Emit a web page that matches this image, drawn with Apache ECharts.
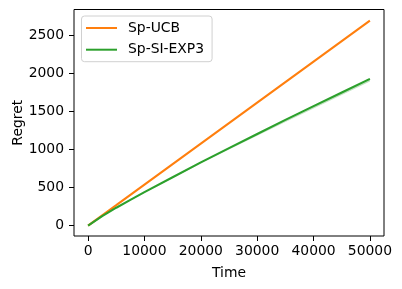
<!DOCTYPE html>
<html>
<head>
<meta charset="utf-8">
<script src="https://cdn.jsdelivr.net/npm/echarts@6/dist/echarts.min.js"></script>
<style>html,body{margin:0;padding:0;background:#fff;}#c{width:402px;height:289px;}</style>
</head>
<body>
<div id="c"></div>
<script>
const timeSteps = [0, 2500, 5000, 7500, 10000, 15000, 20000, 25000, 30000, 35000, 40000, 45000, 50000];
const ucbRegret = [0, 135, 269, 404, 538, 807, 1076, 1345, 1614, 1883, 2152, 2421, 2690];
const exp3Regret = [0, 126, 236, 338, 440, 636, 830, 1017, 1203, 1387, 1568, 1747, 1925];
const exp3Lower = [0, 124, 232, 332, 432, 624, 815, 998, 1180, 1360, 1537, 1713, 1890];
const exp3Upper = [0, 127, 238, 341, 443, 640, 834, 1021, 1207, 1391, 1572, 1751, 1929];
const xTicks = [0, 10000, 20000, 30000, 40000, 50000];
const yTicks = [0, 500, 1000, 1500, 2000, 2500];
const seriesNames = ['Sp-UCB', 'Sp-SI-EXP3'];

const pairs = (ys) => timeSteps.map((t, i) => [t, ys[i]]);
const font = 'DejaVu Sans';
const chart = echarts.init(document.getElementById('c'), null, {renderer: 'canvas'});
chart.setOption({
  animation: false,
  backgroundColor: '#fff',
  grid: {left: 74, right: 18, top: 9.5, bottom: 53, containLabel: false, outerBoundsMode: 'none', show: true, borderColor: '#000', borderWidth: 1, backgroundColor: 'transparent'},
  xAxis: {
    type: 'value', min: -2500, max: 52500,
    name: 'Time', nameLocation: 'middle', nameGap: 30, nameMoveOverlap: false,
    nameTextStyle: {fontFamily: font, fontSize: 13.9, color: '#000'},
    axisLine: {show: false, onZero: false},
    splitLine: {show: false},
    axisTick: {show: true, length: 5, inside: false, lineStyle: {color: '#000', width: 1}, customValues: xTicks},
    axisLabel: {fontFamily: font, fontSize: 13.9, color: '#000', margin: 8, customValues: xTicks, formatter: (v) => String(v), hideOverlap: false}
  },
  yAxis: {
    type: 'value', min: -135, max: 2835,
    name: 'Regret', nameLocation: 'middle', nameGap: 49, nameMoveOverlap: false,
    nameTextStyle: {fontFamily: font, fontSize: 13.9, color: '#000'},
    axisLine: {show: false, onZero: false},
    splitLine: {show: false},
    axisTick: {show: true, length: 5, lineStyle: {color: '#000', width: 1}, customValues: yTicks},
    axisLabel: {fontFamily: font, fontSize: 13.9, color: '#000', margin: 10, customValues: yTicks, formatter: (v) => String(v), hideOverlap: false}
  },
  legend: {
    data: seriesNames,
    orient: 'vertical', left: 81.5, top: 16,
    backgroundColor: 'rgba(255,255,255,0.8)', borderColor: '#d0d0d0', borderWidth: 1, borderRadius: 3,
    padding: [5, 8, 5, 4.5], itemGap: 7.7,
    icon: 'rect', itemWidth: 31, itemHeight: 2,
    textStyle: {fontFamily: font, fontSize: 13.9, color: '#000', padding: [0, 0, 0, 6]}
  },
  series: [
    {
      name: 'band', type: 'custom', silent: true, z: 1,
      data: [0],
      renderItem: function (params, api) {
        const pts = [];
        for (let i = 0; i < timeSteps.length; i++) pts.push(api.coord([timeSteps[i], exp3Upper[i]]));
        for (let i = timeSteps.length - 1; i >= 0; i--) pts.push(api.coord([timeSteps[i], exp3Lower[i]]));
        return {type: 'polygon', shape: {points: pts}, style: {fill: 'rgba(44,160,44,0.3)'}};
      }
    },
    {name: 'Sp-UCB', type: 'line', data: pairs(ucbRegret), showSymbol: false, lineStyle: {color: '#ff7f0e', width: 2.1}, itemStyle: {color: '#ff7f0e'}, z: 3},
    {name: 'Sp-SI-EXP3', type: 'line', data: pairs(exp3Regret), showSymbol: false, lineStyle: {color: '#2ca02c', width: 2.1}, itemStyle: {color: '#2ca02c'}, z: 3}
  ]
});
</script>
</body>
</html>
